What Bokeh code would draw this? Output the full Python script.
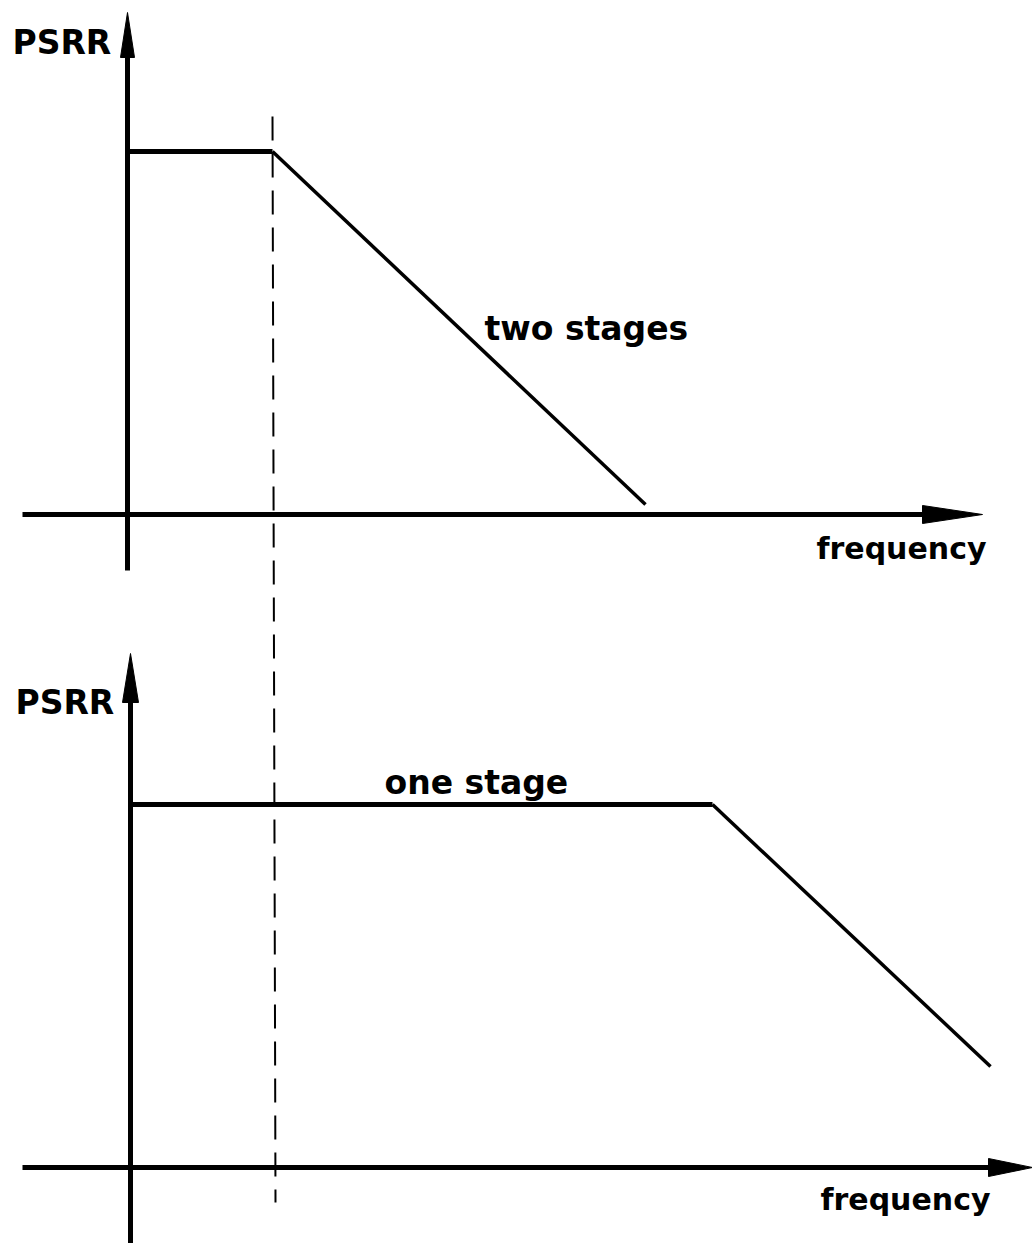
from bokeh.plotting import figure
from bokeh.models import Range1d
from bokeh.core.properties import value
from bokeh.embed import file_html
from bokeh.resources import INLINE

# ---------------- data (diagram units) ----------------
y_label = "PSRR"
x_label = "frequency"
curve_labels = ["two stages", "one stage"]

# two-stage amplifier: flat PSRR then roll-off from a low-frequency pole
two_stage_freq = [0, 145, 518]
two_stage_psrr = [363, 363, 10]

# one-stage amplifier: flat PSRR up to a much higher pole, then roll-off
one_stage_freq = [0, 582, 860]
one_stage_psrr = [363, 363, 101]

# frequency of the two-stage pole marked by the dashed guide
pole_freq = 145

# ---------------- layout (page pixels) ----------------
W, H = 1032, 1243
panels = [
    dict(ox=127, oy=514, x_left=-105, x_right=855, y_bottom=-56, y_top=502,
         freq=two_stage_freq, psrr=two_stage_psrr, label=curve_labels[0],
         label_pos=(484, 328), ylab_pos=(12, 42), xlab_pos=(986, 548),
         head_y=(45, 7), head_x=(60, 9)),
    dict(ox=130, oy=1167, x_left=-108, x_right=902, y_bottom=-80, y_top=514,
         freq=one_stage_freq, psrr=one_stage_psrr, label=curve_labels[1],
         label_pos=(384, 782), ylab_pos=(15, 702), xlab_pos=(990, 1199),
         head_y=(49, 8), head_x=(44, 9)),
]
dash_y = (116, 1202)

p = figure(width=W, height=H, x_range=Range1d(0, W), y_range=Range1d(H, 0),
           x_axis_location=None, y_axis_location=None, min_border=0,
           toolbar_location=None, output_backend="svg", tools="")
p.grid.visible = False
p.outline_line_color = None
p.background_fill_color = "white"
p.border_fill_color = "white"

FONT = value("DejaVu Sans")
INK = "black"

for pn in panels:
    ox, oy = pn["ox"], pn["oy"]
    # axes
    p.line([ox + pn["x_left"], ox + pn["x_right"] - pn["head_x"][0] + 4], [oy, oy],
           line_width=5, color=INK)
    p.line([ox, ox], [oy - pn["y_bottom"], oy - pn["y_top"] + pn["head_y"][0] - 4],
           line_width=5, color=INK)
    # arrow heads
    hl, hw = pn["head_y"]
    tip_y = oy - pn["y_top"]
    p.patch([ox, ox - hw, ox + hw], [tip_y, tip_y + hl, tip_y + hl], color=INK)
    hl, hw = pn["head_x"]
    tip_x = ox + pn["x_right"]
    p.patch([tip_x, tip_x - hl, tip_x - hl], [oy, oy - hw, oy + hw], color=INK)
    # PSRR curve
    xs = [ox + f for f in pn["freq"]]
    ys = [oy - v for v in pn["psrr"]]
    p.line(xs[:2], ys[:2], line_width=5, color=INK)
    p.line(xs[1:], ys[1:], line_width=3.5, color=INK, line_join="miter")
    # texts
    p.text(x=[pn["ylab_pos"][0]], y=[pn["ylab_pos"][1]], text=[y_label],
           text_font=FONT, text_font_style="bold", text_font_size="33px",
           text_align="left", text_baseline="alphabetic", color=INK)
    p.text(x=[pn["xlab_pos"][0]], y=[pn["xlab_pos"][1]], text=[x_label],
           text_font=FONT, text_font_style="bold", text_font_size="30px",
           text_align="right", text_baseline="alphabetic", color=INK)
    p.text(x=[pn["label_pos"][0]], y=[pn["label_pos"][1]], text=[pn["label"]],
           text_font=FONT, text_font_style="bold", text_font_size="33px",
           text_align="left", text_baseline="alphabetic", color=INK)

# dashed guide at the two-stage pole frequency, through both panels
p.line([panels[0]["ox"] + pole_freq, panels[1]["ox"] + pole_freq], list(dash_y),
       line_width=2, color=INK, line_dash="24 13")

open("out.html", "w").write(file_html(p, INLINE))
